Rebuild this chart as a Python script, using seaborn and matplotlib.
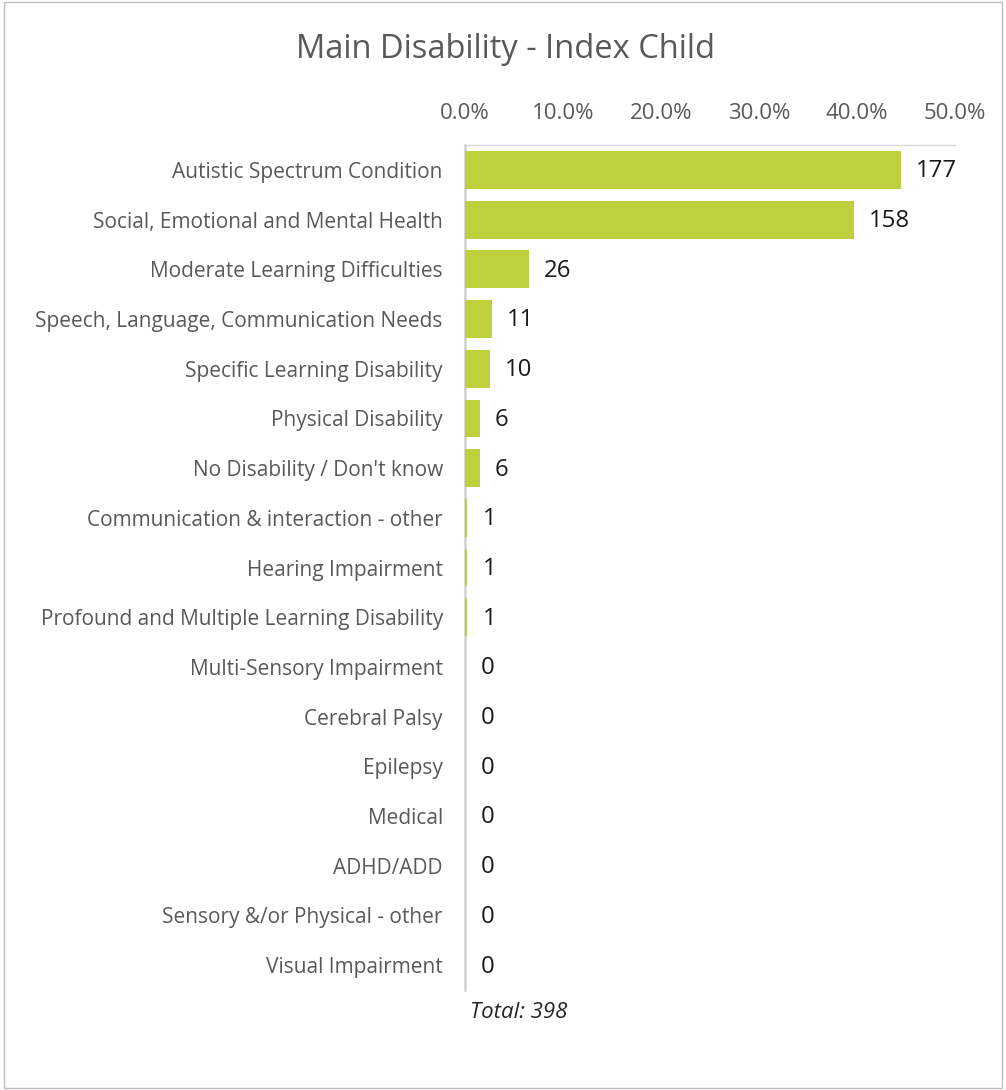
import matplotlib
matplotlib.use("Agg")
import matplotlib.pyplot as plt
import seaborn as sns
import pandas as pd
from matplotlib.ticker import FuncFormatter
from matplotlib.patches import Rectangle

categories = [
    "Autistic Spectrum Condition",
    "Social, Emotional and Mental Health",
    "Moderate Learning Difficulties",
    "Speech, Language, Communication Needs",
    "Specific Learning Disability",
    "Physical Disability",
    "No Disability / Don't know",
    "Communication & interaction - other",
    "Hearing Impairment",
    "Profound and Multiple Learning Disability",
    "Multi-Sensory Impairment",
    "Cerebral Palsy",
    "Epilepsy",
    "Medical",
    "ADHD/ADD",
    "Sensory &/or Physical - other",
    "Visual Impairment",
]
counts = [177, 158, 26, 11, 10, 6, 6, 1, 1, 1, 0, 0, 0, 0, 0, 0, 0]
total = 398
x_ticks = [0.0, 0.1, 0.2, 0.3, 0.4, 0.5]

df = pd.DataFrame({"category": categories, "count": counts})
df["share"] = df["count"] / total

sns.set_theme(style="white")
plt.rcParams["font.family"] = ["Open Sans", "DejaVu Sans"]

fig = plt.figure(figsize=(10.06, 10.90), dpi=100)
ax = fig.add_axes([0.4622, 0.0917, 0.4871, 0.7752])

sns.barplot(data=df, x="share", y="category", orient="h", color="#BED13C",
            saturation=1, width=0.76, ax=ax, order=categories, linewidth=0)
for p in ax.patches:
    p.set_zorder(3)

ax.set_xlim(0, 0.5)
ax.set_ylim(len(categories) - 0.5, -0.5)
ax.set_xticks(x_ticks)
ax.xaxis.set_major_formatter(FuncFormatter(lambda v, p: f"{v*100:.1f}%"))
ax.xaxis.tick_top()
ax.tick_params(axis="x", length=0, pad=15, labelsize=16, labelcolor="#595959")
ax.tick_params(axis="y", length=0, pad=16, labelsize=15, labelcolor="#595959")
ax.set_xlabel("")
ax.set_ylabel("")

for s in ["right", "bottom"]:
    ax.spines[s].set_visible(False)
ax.spines["top"].set_color("#d9d9d9")
ax.spines["top"].set_linewidth(1.0)
ax.spines["left"].set_color("#d0d0d0")
ax.spines["left"].set_linewidth(1.8)

for i, (c, s) in enumerate(zip(counts, df["share"])):
    ax.annotate(str(c), xy=(s, i), xytext=(11, -1), textcoords="offset points",
                va="center", ha="left", fontsize=17.3, color="#1a1a1a")

fig.text(0.502, 0.955, "Main Disability - Index Child", ha="center", va="center",
         fontsize=23.5, color="#595959")
fig.text(0.467, 0.071, "Total: 398", ha="left", va="center", fontsize=16,
         style="italic", color="#262626")

fig.patches.append(Rectangle((0.004, 0.002), 0.992, 0.996, transform=fig.transFigure,
                             fill=False, edgecolor="#bfbfbf", linewidth=1.0))

fig.savefig("out.png", dpi=100, facecolor="white")
